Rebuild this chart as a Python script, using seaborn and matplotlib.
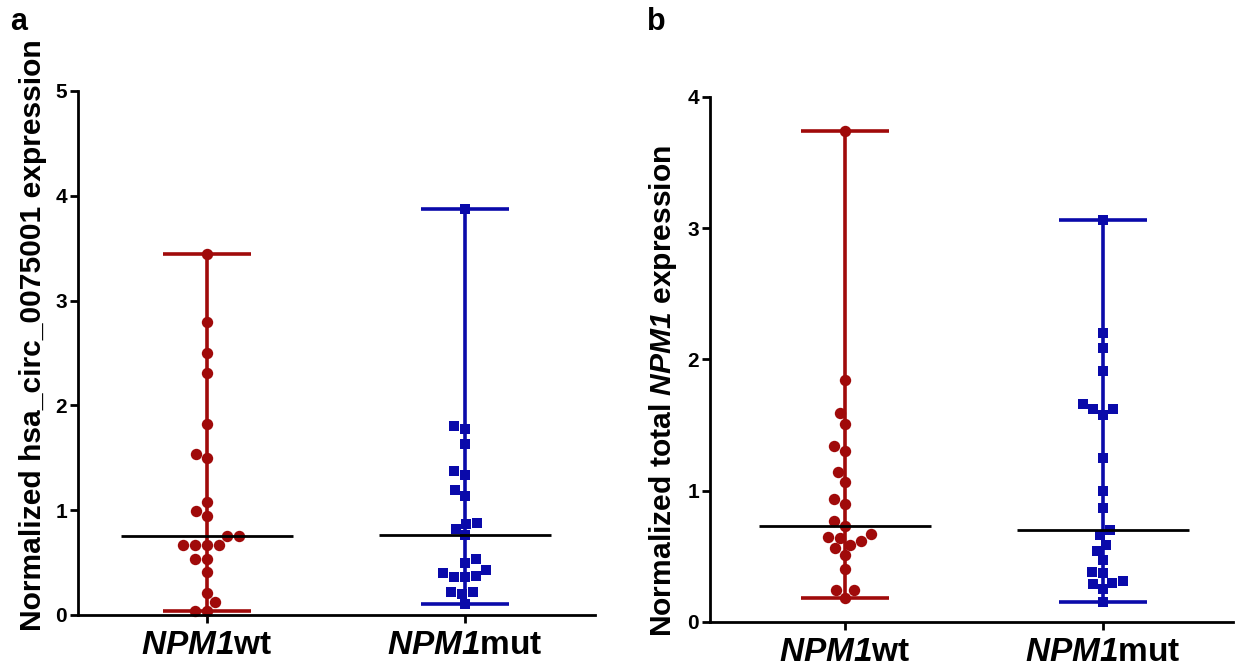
import numpy as np
import pandas as pd
import matplotlib
matplotlib.use("Agg")
import matplotlib.pyplot as plt
import seaborn as sns

# values (23 patients per group)
groups = ["NPM1wt", "NPM1mut"]
tick_labels = [r"$\mathbfit{NPM1}\mathbf{wt}$", r"$\mathbfit{NPM1}\mathbf{mut}$"]

circ_wt = [3.44, 2.80, 2.50, 2.31, 1.82, 1.54, 1.50, 1.08, 0.99, 0.94, 0.75, 0.75,
           0.67, 0.67, 0.67, 0.67, 0.53, 0.53, 0.41, 0.21, 0.12, 0.04, 0.04]
circ_mut = [3.87, 1.80, 1.77, 1.63, 1.37, 1.34, 1.19, 1.14, 0.88, 0.87, 0.82, 0.76,
            0.53, 0.50, 0.43, 0.40, 0.37, 0.36, 0.36, 0.22, 0.22, 0.20, 0.10]
total_wt = [3.74, 1.84, 1.59, 1.51, 1.34, 1.30, 1.14, 1.07, 0.94, 0.90, 0.77, 0.73,
            0.67, 0.65, 0.64, 0.62, 0.59, 0.56, 0.51, 0.40, 0.24, 0.24, 0.18]
total_mut = [3.06, 2.20, 2.09, 1.91, 1.66, 1.62, 1.62, 1.58, 1.25, 1.00, 0.87, 0.70,
             0.66, 0.59, 0.54, 0.47, 0.38, 0.37, 0.31, 0.30, 0.29, 0.25, 0.15]

RED = "#A00A0A"
BLUE = "#0A0AAA"
colors = [RED, BLUE]
markers = ["o", "s"]

sns.set_style("ticks")
plt.rcParams["font.family"] = ["Liberation Sans", "DejaVu Sans"]
plt.rcParams["font.weight"] = "bold"
plt.rcParams["text.color"] = "black"
plt.rcParams["axes.labelcolor"] = "black"
plt.rcParams["mathtext.fontset"] = "custom"
plt.rcParams["mathtext.rm"] = "Liberation Sans:bold"
plt.rcParams["mathtext.bf"] = "Liberation Sans:bold"
plt.rcParams["mathtext.it"] = "Liberation Sans:italic:bold"
plt.rcParams["mathtext.bfit"] = "Liberation Sans:italic:bold"


def draw_panel(ax, wt, mut, ylabel, ymax, xmin, label_y):
    df = pd.DataFrame({"group": [groups[0]] * len(wt) + [groups[1]] * len(mut),
                       "value": wt + mut})
    for i, g in enumerate(groups):
        sns.swarmplot(data=df[df.group == g], x="group", y="value", order=groups,
                      color=colors[i], marker=markers[i], size=8.2 if i == 0 else 7.8,
                      linewidth=0, ax=ax, zorder=2, clip_on=False, warn_thresh=1)

    # median with range
    stats = df.groupby("group", sort=False)["value"].agg(["min", "median", "max"])
    for i, g in enumerate(groups):
        s = stats.loc[g]
        ax.vlines(i, s["min"], s["max"], color=colors[i], lw=2.6, zorder=3)
        ax.hlines([s["min"], s["max"]], i - 0.17, i + 0.17, color=colors[i], lw=2.6, zorder=3)
        ax.hlines(s["median"], i - 0.335, i + 0.335, color="black", lw=2.0, zorder=4)

    ax.set_xlim(xmin, 1.504)
    ax.set_ylim(0, ymax)
    ax.set_yticks(range(0, ymax + 1))
    ax.set_xticks([0, 1], tick_labels)
    ax.set_xlabel("")
    ax.set_ylabel(ylabel, fontsize=21.6, fontweight="bold", labelpad=6)
    ax.yaxis.label.set_y(label_y)
    sns.despine(ax=ax)
    for sp in ["left", "bottom"]:
        ax.spines[sp].set_linewidth(2)
        ax.spines[sp].set_color("black")
    ax.tick_params(axis="y", width=2, length=6, labelsize=15, colors="black", pad=2)
    ax.tick_params(axis="x", width=2, length=6, labelsize=24, colors="black", pad=5)


fig = plt.figure(figsize=(12.38, 6.67), dpi=100)
ax_a = fig.add_axes([0.063, 0.078, 0.4176, 0.7856])
ax_b = fig.add_axes([0.5735, 0.0675, 0.4225, 0.7871])

draw_panel(ax_a, circ_wt, circ_mut, "Normalized hsa_circ_0075001 expression", 5, -0.5, 0.534)
draw_panel(ax_b, total_wt, total_mut, r"Normalized total $\mathbfit{NPM1}$ expression", 4, -0.523, 0.44)

fig.text(0.008, 0.99, "a", fontsize=22, fontweight="bold", va="top")
fig.text(0.523, 0.99, "b", fontsize=22, fontweight="bold", va="top")

fig.savefig("out.png", dpi=100, facecolor="white")
